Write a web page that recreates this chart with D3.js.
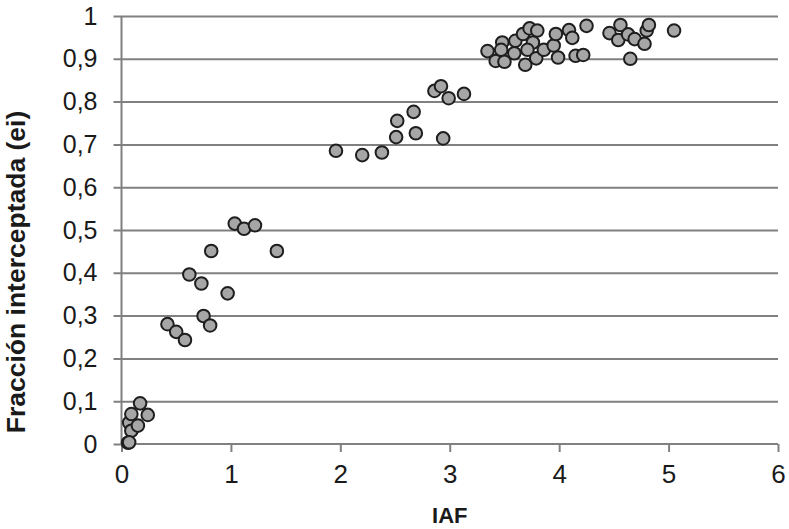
<!DOCTYPE html>
<html>
<head>
<meta charset="utf-8">
<script src="https://cdn.jsdelivr.net/npm/d3@7"></script>
<style>
  body { margin: 0; background: #fff; overflow: hidden; }
  svg { display: block; }
  text { font-family: "Liberation Sans", Arial, sans-serif; }
</style>
</head>
<body>
<div id="chart-area"></div>
<script>
// IAF (x) and fracción interceptada (y)
const iaf = [
  0.06, 0.07, 0.09, 0.09, 0.15, 0.17, 0.24, 0.07,
  0.42, 0.50, 0.58, 0.62, 0.73, 0.75, 0.81, 0.82, 0.97, 1.035, 1.12, 1.22, 1.42,
  1.96, 2.20, 2.38, 2.51, 2.52, 2.67, 2.69, 2.86, 2.92, 2.94, 2.99, 3.13,
  3.345, 3.42, 3.48, 3.47, 3.50, 3.59, 3.60, 3.67, 3.73, 3.80, 3.76, 3.71, 3.69, 3.79,
  3.86, 3.95, 3.97, 3.99, 4.09, 4.12, 4.15, 4.22, 4.25, 4.46, 4.56, 4.54, 4.63, 4.69,
  4.65, 4.78, 4.80, 4.82, 5.05
]
const ei = [
  0.003, 0.05, 0.07, 0.031, 0.043, 0.095, 0.068, 0.004,
  0.28, 0.262, 0.243, 0.396, 0.375, 0.299, 0.277, 0.451, 0.352, 0.515, 0.503, 0.511, 0.451,
  0.685, 0.675, 0.681, 0.717, 0.755, 0.776, 0.726, 0.825, 0.836, 0.714, 0.808, 0.818,
  0.918, 0.895, 0.938, 0.921, 0.893, 0.913, 0.942, 0.958, 0.971, 0.966, 0.938, 0.921, 0.886, 0.901,
  0.921, 0.931, 0.958, 0.903, 0.967, 0.949, 0.907, 0.909, 0.977, 0.96, 0.979, 0.944, 0.957, 0.946,
  0.9, 0.935, 0.966, 0.979, 0.966
]
const xTicks = [0, 1, 2, 3, 4, 5, 6]
const yTicks = [0, 0.1, 0.2, 0.3, 0.4, 0.5, 0.6, 0.7, 0.8, 0.9, 1]

const MARGIN = { LEFT: 121.5, RIGHT: 11, TOP: 16, BOTTOM: 85 }
const W = 789, H = 529
const WIDTH = W - MARGIN.LEFT - MARGIN.RIGHT
const HEIGHT = H - MARGIN.TOP - MARGIN.BOTTOM

const svg = d3.select("#chart-area").append("svg")
  .attr("width", W)
  .attr("height", H)

const g = svg.append("g")
  .attr("transform", `translate(${MARGIN.LEFT}, ${MARGIN.TOP})`)

const x = d3.scaleLinear().domain([0, 6]).range([0, WIDTH])
const y = d3.scaleLinear().domain([0, 1]).range([HEIGHT, 0])

const fmt = d => String(d).replace(".", ",")

// horizontal grid + y axis
const yAxisCall = d3.axisLeft(y).tickValues(yTicks).tickSize(8).tickPadding(16).tickFormat(fmt)
const yAxis = g.append("g").attr("class", "y axis").call(yAxisCall)
yAxis.select(".domain").attr("stroke", "#808080").attr("stroke-width", 2).attr("d", `M0,0V${HEIGHT}`)
yAxis.selectAll(".tick line")
  .attr("stroke", "#808080").attr("stroke-width", 2)
  .attr("x1", -8).attr("x2", d => d === 0 ? 0 : WIDTH)
yAxis.selectAll("text")
  .attr("font-size", "25px").attr("fill", "#1a1a1a")
  .attr("font-family", "Liberation Sans, Arial, sans-serif")

// x axis
const xAxisCall = d3.axisBottom(x).tickValues(xTicks).tickSize(8).tickPadding(13).tickFormat(d => d)
const xAxis = g.append("g").attr("class", "x axis")
  .attr("transform", `translate(0, ${HEIGHT})`)
  .call(xAxisCall)
xAxis.select(".domain").attr("stroke", "#808080").attr("stroke-width", 2).attr("d", `M0,0H${WIDTH}`)
xAxis.selectAll(".tick line").attr("stroke", "#808080").attr("stroke-width", 2)
xAxis.selectAll("text")
  .attr("font-size", "26px").attr("fill", "#1a1a1a")
  .attr("font-family", "Liberation Sans Narrow, Arial Narrow, Liberation Sans, sans-serif")

// X label
g.append("text")
  .attr("x", x(3))
  .attr("y", HEIGHT + 79)
  .attr("font-size", "22px")
  .attr("font-weight", "bold")
  .attr("text-anchor", "middle")
  .attr("fill", "#1a1a1a")
  .text("IAF")

// Y label
svg.append("text")
  .attr("transform", "translate(25, 272) rotate(-90)")
  .attr("font-size", "26.5px")
  .attr("font-weight", "bold")
  .attr("text-anchor", "middle")
  .attr("fill", "#1a1a1a")
  .text("Fracción interceptada (ei)")

// points
const data = iaf.map((v, i) => ({ iaf: v, ei: ei[i] }))
g.selectAll("circle")
  .data(data)
  .enter().append("circle")
  .attr("cx", d => x(d.iaf))
  .attr("cy", d => y(d.ei))
  .attr("r", 6.3)
  .attr("fill", "#a6a6a6")
  .attr("stroke", "#1e1e1e")
  .attr("stroke-width", 2)
</script>
</body>
</html>
